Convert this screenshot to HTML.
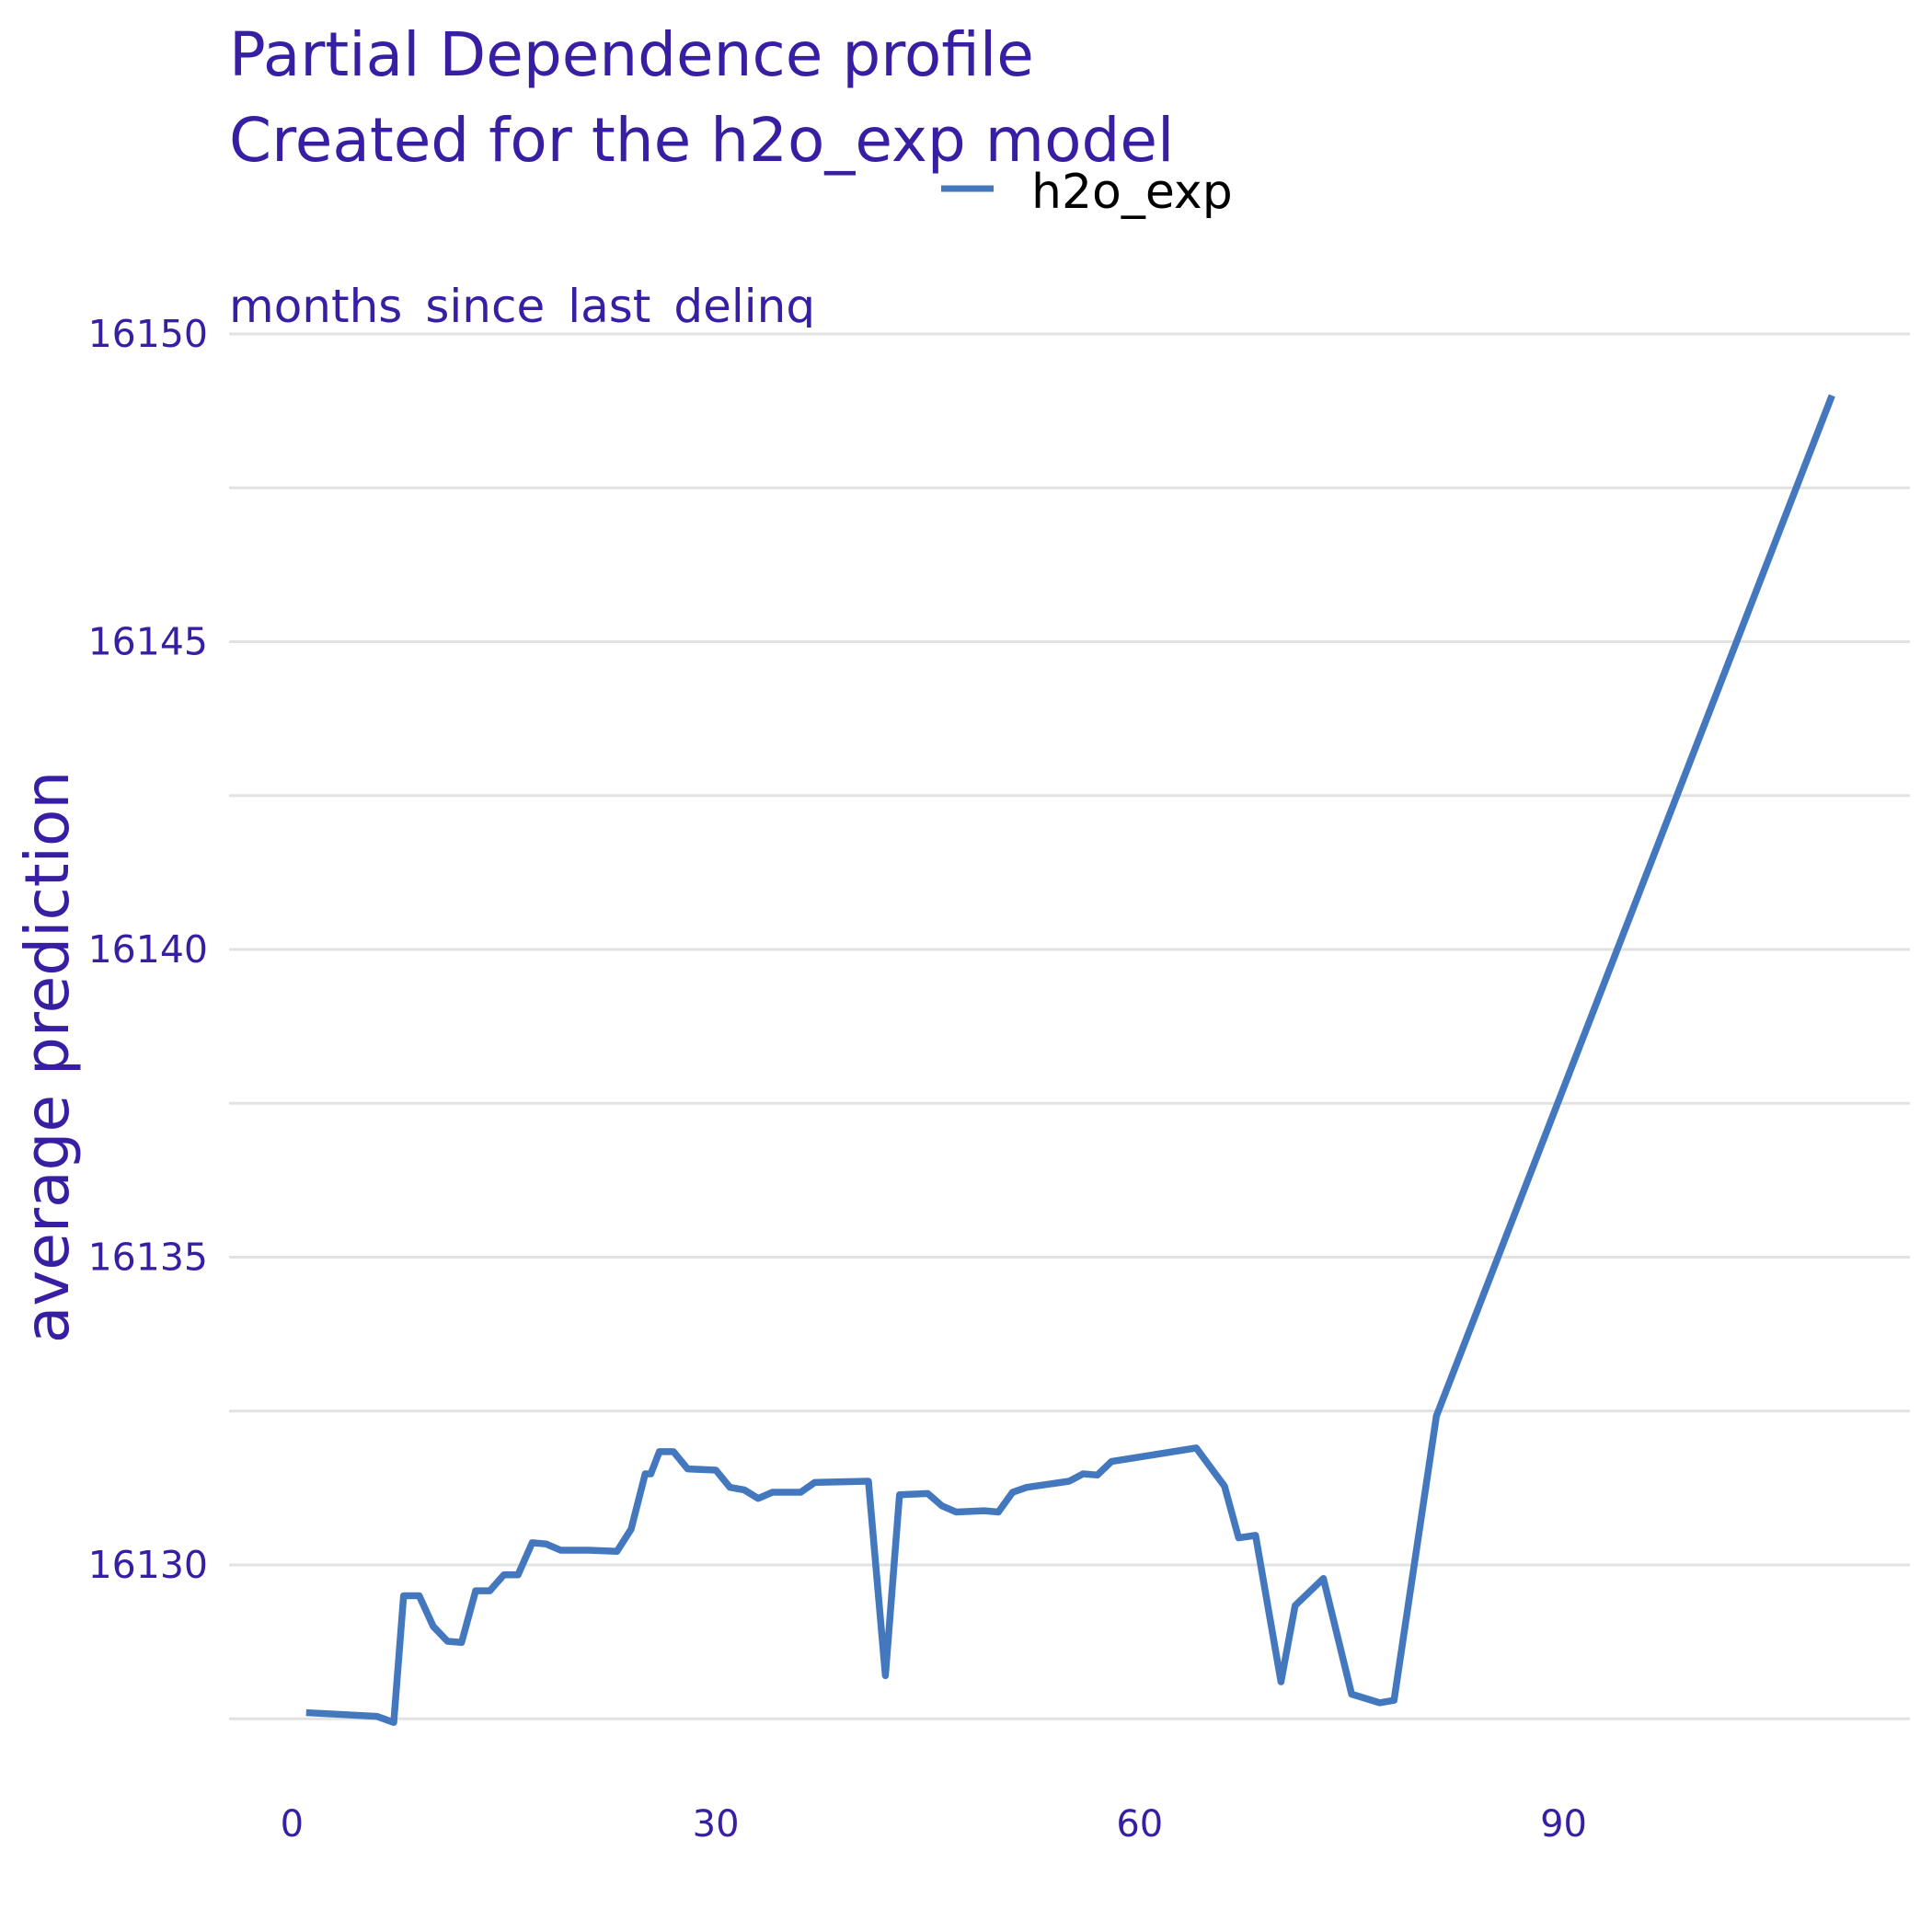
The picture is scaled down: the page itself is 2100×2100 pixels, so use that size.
<!DOCTYPE html>
<html><head><meta charset="utf-8"><style>
html,body{margin:0;padding:0;background:#fff;}
svg{display:block;font-family:"DejaVu Sans","Liberation Sans",sans-serif;}
</style></head><body>
<svg id="chart" width="2100" height="2100" viewBox="0 0 2100 2100" xmlns="http://www.w3.org/2000/svg">
<defs><clipPath id="subclip"><rect x="0" y="0" width="2100" height="356"/></clipPath></defs>
<text x="249" y="82" font-size="66" fill="#371ea3">Partial Dependence profile</text>
<text x="249" y="175" font-size="66" fill="#371ea3">Created for the h2o_exp model</text>
<g>
<line x1="1023" y1="205" x2="1080" y2="205" stroke="#4378bf" stroke-width="7"/>
<text x="1121" y="226" font-size="52" fill="#000">h2o_exp</text>
</g>
<text x="249" y="350" font-size="50" fill="#371ea3" clip-path="url(#subclip)">months_since_last_delinq</text>
<g id="grid"></g>
<g id="yticks"></g>
<g id="xticks"></g>
<text transform="translate(74,1149) rotate(-90)" text-anchor="middle" font-size="66" fill="#371ea3">average prediction</text>
<g id="series"></g>
</svg>
<script>
const xVals=[1,6,7.2,7.9,9,10,11,12,13,14,15,16,17,18,19,21,23,24,25,25.4,26,27,28,30,31,32,33,34,36,37,40.8,42,43,45,46,47,49,50,51,52,55,56,57,58,64,66,67,68.2,70,71,73,75,77,78,81,109];
const yVals=[16127.6,16127.54,16127.44,16129.5,16129.5,16129.0,16128.76,16128.74,16129.58,16129.58,16129.84,16129.84,16130.36,16130.34,16130.24,16130.24,16130.22,16130.58,16131.48,16131.48,16131.84,16131.84,16131.56,16131.54,16131.26,16131.22,16131.08,16131.18,16131.18,16131.34,16131.36,16128.2,16131.14,16131.16,16130.96,16130.86,16130.88,16130.86,16131.18,16131.26,16131.36,16131.48,16131.46,16131.68,16131.9,16131.28,16130.44,16130.48,16128.1,16129.34,16129.78,16127.9,16127.76,16127.8,16132.42,16149.0];
const yTicks=[16130,16135,16140,16145,16150];
const yGrid=[16127.5,16130,16132.5,16135,16137.5,16140,16142.5,16145,16147.5,16150];
const xTicks=[0,30,60,90];
const NS="http://www.w3.org/2000/svg";
function sx(v){return 317.4+v*15.357;}
function sy(v){return 363+(16150-v)*66.9;}
const grid=document.getElementById('grid');
yGrid.forEach(v=>{
 const l=document.createElementNS(NS,'line');
 
 
 l.setAttribute('x1',249);l.setAttribute('x2',2076);
 l.setAttribute('y1',sy(v));l.setAttribute('y2',sy(v));
 l.setAttribute('stroke','#e2e2e2');l.setAttribute('stroke-width','3');
 grid.appendChild(l);
});
const yt=document.getElementById('yticks');
yTicks.forEach(v=>{
 const t=document.createElementNS(NS,'text');
 
 
 t.setAttribute('x',226);t.setAttribute('y',sy(v)+14);
 t.setAttribute('text-anchor','end');t.setAttribute('font-size','41');t.setAttribute('fill','#371ea3');
 t.textContent=v;yt.appendChild(t);
});
const xt=document.getElementById('xticks');
xTicks.forEach(v=>{
 const t=document.createElementNS(NS,'text');
 
 
 t.setAttribute('x',sx(v));t.setAttribute('y',1996);
 t.setAttribute('text-anchor','middle');t.setAttribute('font-size','40');t.setAttribute('fill','#371ea3');
 t.textContent=v;xt.appendChild(t);
});
const p=document.createElementNS(NS,'polyline');


p.setAttribute('points',xVals.map((x,i)=>sx(x)+','+sy(yVals[i])).join(' '));
p.setAttribute('fill','none');p.setAttribute('stroke','#4378bf');p.setAttribute('stroke-width','7.5');
p.setAttribute('stroke-linejoin','round');
document.getElementById('series').appendChild(p);
</script>
</body></html>
